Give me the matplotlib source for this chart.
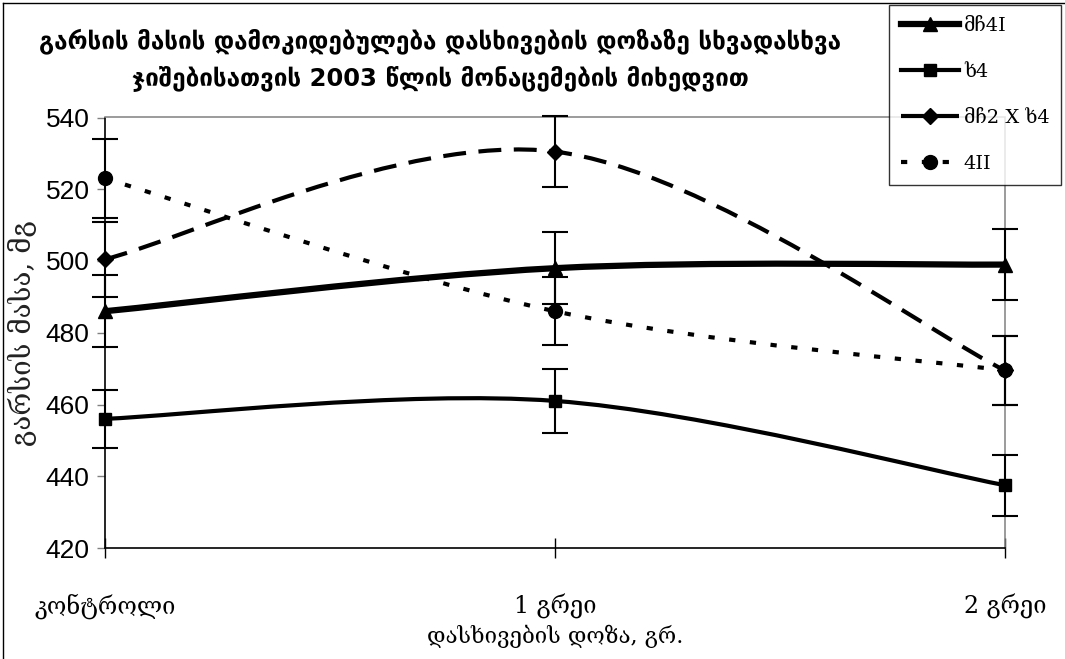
import matplotlib
matplotlib.use("Agg")
import matplotlib.pyplot as plt
from matplotlib.path import Path
from matplotlib.patches import PathPatch
from matplotlib.lines import Line2D
from matplotlib import font_manager
import numpy as np

# categories (dose)
categories = ["კონტროლი", "1 გრეი", "2 გრეი"]

# series values, mg
m4i = [486, 498, 499]
m4i_err = [10, 10, 10]
kh4 = [456, 461, 437.5]
kh4_err = [8, 9, 8.5]
cross = [500.5, 530.5, 469.5]
cross_err = [10.5, 10, 9.5]
s4ii = [523, 486, 469.5]
s4ii_err = [11, 9.5, 9.5]

series_names = ["მჩ4I", "ხ4", "მჩ2 X ხ4", "4II"]
yticks = [420, 440, 460, 480, 500, 520, 540]

title = ("გარსის მასის დამოკიდებულება დასხივების დოზაზე სხვადასხვა\n"
         "ჯიშებისათვის 2003 წლის მონაცემების მიხედვით")
ylabel = "გარსის მასა, მგ"
xlabel = "დასხივების დოზა, გრ."

names = {f.name for f in font_manager.fontManager.ttflist}
num_font = "Liberation Sans Narrow" if "Liberation Sans Narrow" in names else "Liberation Sans"
geo_serif = ["DejaVu Serif", "DejaVu Sans"]


def smooth_path(xs, ys):
    # excel style smoothed line: cubic bezier between neighbours
    pts = np.column_stack([xs, ys]).astype(float)
    n = len(pts)
    verts = [pts[0]]
    codes = [Path.MOVETO]
    for i in range(n - 1):
        p0 = pts[i - 1] if i > 0 else pts[i]
        p1 = pts[i]
        p2 = pts[i + 1]
        p3 = pts[i + 2] if i + 2 < n else pts[i + 1]
        c1 = p1 + (p2 - p0) / 6.0
        c2 = p2 - (p3 - p1) / 6.0
        verts += [c1, c2, p2]
        codes += [Path.CURVE4] * 3
    return Path(verts, codes)


fig = plt.figure(figsize=(10.65, 6.59), dpi=100)
ax = fig.add_axes([105 / 1065, 111 / 659, 900 / 1065, 430.5 / 659])

x = np.arange(len(categories))

styles = [
    dict(vals=m4i, err=m4i_err, marker="^", lw=4.5, ls="-", ms=10),
    dict(vals=kh4, err=kh4_err, marker="s", lw=3.0, ls="-", ms=9),
    dict(vals=cross, err=cross_err, marker="D", lw=3.0, ls=(0, (5.5, 3)), ms=8),
    dict(vals=s4ii, err=s4ii_err, marker="o", lw=3.0, ls=(0, (1.5, 3.5)), ms=10),
]

handles = []
for st, name in zip(styles, series_names):
    patch = PathPatch(smooth_path(x, st["vals"]), fill=False, edgecolor="black",
                      lw=st["lw"], linestyle=st["ls"], capstyle="butt", zorder=3)
    ax.add_patch(patch)
    ax.errorbar(x, st["vals"], yerr=st["err"], fmt=st["marker"], color="black",
                ms=st["ms"], ecolor="black", elinewidth=1.5, capsize=9.5,
                capthick=1.5, clip_on=False, zorder=4)
    handles.append(Line2D([], [], color="black", lw=st["lw"], ls=st["ls"],
                          marker=st["marker"], ms=st["ms"], dash_capstyle="butt"))

ax.set_xlim(0, 2)
ax.set_ylim(420, 540)
ax.set_yticks(yticks)
ax.set_yticklabels([str(v) for v in yticks], fontfamily=num_font, fontsize=19)
ax.set_xticks(x)
ax.set_xticklabels(categories, family=geo_serif, fontsize=17)

ax.tick_params(axis="y", direction="out", length=6, width=1, color="#808080", pad=5)
ax.tick_params(axis="x", direction="inout", length=14, width=1, color="black", pad=26)

for side in ("top", "right"):
    ax.spines[side].set_color("#808080")
    ax.spines[side].set_linewidth(1.1)
for side in ("left", "bottom"):
    ax.spines[side].set_color("black")
    ax.spines[side].set_linewidth(1.2)

ax.set_ylabel(ylabel, family=geo_serif, fontsize=20, labelpad=6, color="#222222")
ax.set_xlabel(xlabel, family=geo_serif, fontsize=16, labelpad=4)

fig.text(440 / 1065, 1 - 60 / 659, title, ha="center", va="center",
         fontsize=17.5, fontweight="bold", family=["DejaVu Sans"], linespacing=1.55)

leg = fig.legend(handles, series_names, loc="upper left",
                 bbox_to_anchor=(889 / 1065, 1 - 5 / 659), borderaxespad=0,
                 prop={"family": geo_serif, "size": 14}, handlelength=3.0,
                 handletextpad=0.25, labelspacing=1.45, borderpad=0.6,
                 fancybox=False, frameon=True)
leg.get_frame().set_edgecolor("black")
leg.get_frame().set_linewidth(1.0)

# outer chart border
fig.add_artist(Line2D([3 / 1065, 3 / 1065], [0, 1 - 3 / 659], color="black", lw=1))
fig.add_artist(Line2D([3 / 1065, 1], [1 - 3 / 659, 1 - 3 / 659], color="black", lw=1))

fig.savefig("out.png", dpi=100)
